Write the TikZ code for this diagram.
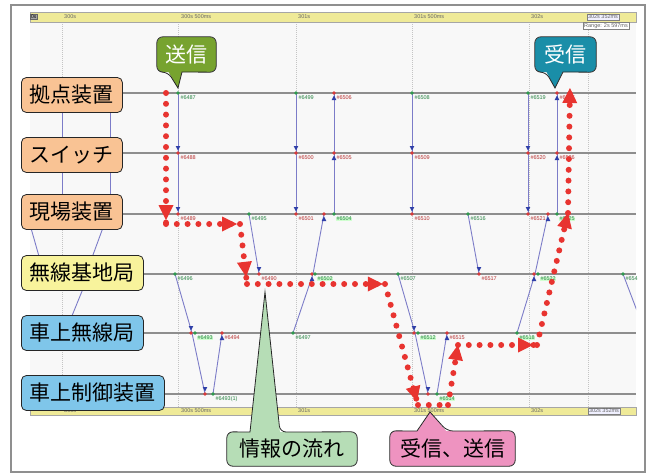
\documentclass[tikz,border=0pt]{standalone}
\usepackage{fontspec}
\setmainfont{Liberation Sans}
\newfontfamily\cjk{Noto Sans CJK JP}
\usetikzlibrary{decorations.markings}

\definecolor{frm}{HTML}{8F8F8F}
\definecolor{plotbg}{HTML}{F8F8F8}
\definecolor{rowc}{HTML}{8E8E8E}
\definecolor{gridc}{HTML}{C4C4C4}
\definecolor{rul}{HTML}{EFEA98}
\definecolor{msgc}{HTML}{7C7CC8}
\definecolor{sndc}{HTML}{2E9A4E}
\definecolor{rcvc}{HTML}{D83A3A}
\definecolor{arrc}{HTML}{2F3FA8}
\definecolor{redp}{HTML}{E83430}
\definecolor{orng}{HTML}{F9C394}
\definecolor{yell}{HTML}{F8F39C}
\definecolor{blu}{HTML}{7FC6EA}
\definecolor{cgreen}{HTML}{77A32F}
\definecolor{cteal}{HTML}{1A8EA8}
\definecolor{cmint}{HTML}{B6DDB6}
\definecolor{cpink}{HTML}{EE93C0}

\newcommand\evS[3]{\fill[sndc] (#1,#2) circle (1.9pt); \node[evl,text=sndc!85!black] at (#1+2,#2+5) {#3};}
\newcommand\evSh[3]{\fill[sndc] (#1,#2) circle (1.9pt); \node[evl,text=sndc!85!black,fill=green!18] at (#1+2,#2+5) {#3};}
\newcommand\evD[3]{\fill[arrc] (#1-2.3,#2-7) -- (#1+2.3,#2-7) -- (#1,#2-2.5) -- cycle; \fill[rcvc] (#1,#2) circle (1.9pt); \node[evl,text=rcvc!85!black] at (#1+2,#2+5) {#3};}
\newcommand\evU[3]{\fill[arrc] (#1-2.3,#2+7) -- (#1+2.3,#2+7) -- (#1,#2+2.5) -- cycle; \fill[rcvc] (#1,#2) circle (1.9pt); \node[evl,text=rcvc!85!black] at (#1+2,#2+5) {#3};}

\begin{document}
\begin{tikzpicture}[x=1pt,y=-1pt,
  devbox/.style={draw=black!85, line width=0.8pt, rounded corners=5pt, inner xsep=8.5pt, inner ysep=0pt, minimum height=35pt, font=\cjk\fontsize{21}{21}\selectfont, anchor=west, text=black},
  co/.style={inner sep=0pt, minimum height=35pt, rounded corners=6pt, font=\cjk\fontsize{21}{21}\selectfont},
  coline/.style={draw=black!85, line width=0.8pt},
  rulerbar/.style={fill=rul, draw=black!35, line width=0.4pt},
  tickl/.style={font=\fontsize{5.5}{6}\selectfont, text=black!60, inner sep=0pt, anchor=west},
  evl/.style={font=\fontsize{5.5}{6}\selectfont, inner sep=0.3pt, anchor=west},
  rowl/.style={draw=rowc, line width=1.3pt},
  gridl/.style={draw=gridc, line width=0.6pt, dash pattern=on 1pt off 1pt},
  msg/.style={draw=msgc, line width=0.9pt},
  reddots/.style={draw=redp, line width=6pt, line cap=round, dash pattern=on 0pt off 10.8pt},
  redarr/.style={postaction={decorate, decoration={markings, mark=at position #1 with {\fill[redp] (0pt,0pt) -- (-15pt,-7.5pt) -- (-15pt,7.5pt) -- cycle;}}}}
]
\useasboundingbox (0,0) rectangle (654,475);
\fill[white] (0,0) rectangle (654,475);
\draw[draw=frm, line width=1.4pt] (11,5) rectangle (645,472);
\fill[plotbg] (30,22) rectangle (636,407);

% grid lines
\foreach \gx in {62,178,296,412,529,588} \draw[gridl] (\gx,22) -- (\gx,407);
% timeline rows
\foreach \ry in {93,153,214,274,333,394} \draw[rowl] (30,\ry) -- (636,\ry);

% message lines
\begin{scope}
\clip (30,22) rectangle (636,407);
\draw[msg] (62,93) -- (62,214);
\draw[msg] (110,93) -- (110,214);
\draw[msg] (27,214) -- (44,274);
\draw[msg] (108,214) -- (86,274);
\draw[msg] (89,274) -- (65,333);
\draw[msg] (178,93) -- (178,214);
\draw[msg] (296,93) -- (296,214);
\draw[msg] (334,214) -- (334,93);
\draw[msg] (412,93) -- (412,214);
\draw[msg] (528,93) -- (528,214);
\draw[msg] (557,214) -- (557,93);
\draw[msg] (249,214) -- (259,274);
\draw[msg] (293,333) -- (313,274) -- (324,214);
\draw[msg] (175,274) -- (192,333) -- (205,394);
\draw[msg] (213,394) -- (222,333);
\draw[msg] (398,274) -- (415,333) -- (428,394);
\draw[msg] (437,394) -- (447,333);
\draw[msg] (468,214) -- (479,274);
\draw[msg] (517,333) -- (535,274) -- (548,214);
\draw[msg] (623,274) -- (642,324);
\end{scope}

% events row 1
\evD{110}{93}{}
\evS{178}{93}{\#6487}
\evS{296}{93}{\#6499}
\evU{334}{93}{\#6506}
\evS{412}{93}{\#6508}
\evS{528}{93}{\#6519}
\evU{557}{93}{\#6527}
% row 2
\evD{110}{153}{}
\evD{178}{153}{\#6488}
\evD{296}{153}{\#6500}
\evU{334}{153}{\#6505}
\evD{412}{153}{\#6509}
\evD{528}{153}{\#6520}
\evU{557}{153}{\#6526}
% row 3
\evS{108}{214}{}
\evD{178}{214}{\#6489}
\evS{249}{214}{\#6495}
\evD{296}{214}{\#6501}
\evU{324}{214}{}
\evSh{334}{214}{\#6504}
\evD{412}{214}{\#6510}
\evS{468}{214}{\#6516}
\evD{528}{214}{\#6521}
\evU{548}{214}{}
\evSh{557}{214}{\#6525}
% row 4
\evS{175}{274}{\#6496}
\evD{259}{274}{\#6490}
\evU{312}{274}{}
\evSh{315}{274}{\#6502}
\evS{398}{274}{\#6507}
\evD{479}{274}{\#6517}
\evU{534}{274}{}
\evSh{538}{274}{\#6522}
\evS{623}{274}{\#654}
% row 5
\evD{191}{333}{}
\evSh{195}{333}{\#6493}
\evU{222}{333}{\#6494}
\evS{293}{333}{\#6497}
\evD{414}{333}{}
\evSh{418}{333}{\#6512}
\evU{447}{333}{\#6515}
\evSh{517}{333}{\#6518}
% row 6
\evD{205}{394}{}
\evS{213}{394}{\#6493(1)}
\evD{428}{394}{}
\evSh{437}{394}{\#6514}

% rulers
\filldraw[rulerbar] (30,12) rectangle (636,22);
\filldraw[rulerbar] (30,407) rectangle (636,415);
\node[fill=black!35, draw=black!60, inner sep=0.8pt, anchor=west, font=\fontsize{5}{5}\selectfont] (zero) at (30,17) {0s};
\foreach \tx/\tt in {64/300s, 181/300s 500ms, 298/301s, 414/301s 500ms, 531/302s} {
  \node[tickl] at (\tx,17) {\tt};
  \node[tickl] at (\tx,411) {\tt};
}
\node[tickl, draw=black!50, fill=blue!6, inner sep=0.8pt] (endtop) at (587,17) {302s 352ms};
\node[tickl, draw=black!50, fill=blue!6, inner sep=0.8pt] (endbot) at (588,411) {302s 352ms};
\node[tickl, draw=black!50, fill=white, inner sep=1pt, anchor=north west] (range) at (583,22) {Range: 2s 597ms};

% device labels
\node[devbox, fill=orng] (kyoten) at (21,95) {拠点装置};
\node[devbox, fill=orng] (switch) at (21,155) {スイッチ};
\node[devbox, fill=orng] (genba) at (21,212) {現場装置};
\node[devbox, fill=yell] (kichi) at (21,273) {無線基地局};
\node[devbox, fill=blu] (shamusen) at (21,333) {車上無線局};
\node[devbox, fill=blu] (shaseigyo) at (21,393) {車上制御装置};

% red information flow
\coordinate (r0) at (166,93);
\coordinate (r1) at (166,224);
\coordinate (r2) at (240,224);
\coordinate (r3) at (247,284);
\coordinate (r4) at (385,284);
\coordinate (r5) at (418,405);
\coordinate (r6) at (448,405);
\coordinate (r7) at (458,345);
\coordinate (r8) at (537,345);
\coordinate (r9) at (568,213);
\coordinate (r10) at (570,88);
\draw[reddots, redarr=0.97] (r0) -- (r1);
\draw[reddots, redarr=0.96] (r1) -- (r2);
\draw[reddots, redarr=0.88] (r2) -- (r3);
\draw[reddots, redarr=0.985] (r3) -- (r4);
\draw[reddots, redarr=0.97] (r4) -- (r5);
\draw[reddots] (r5) -- (r6);
\draw[reddots, redarr=1] (r6) -- (r7);
\draw[reddots, redarr=0.95] (r7) -- (r8);
\draw[reddots, redarr=1] (r8) -- (r9);
\draw[reddots, redarr=1] (r9) -- (r10);

% callout: 送信
\node[co, fill=cgreen, text=white, minimum width=59pt] (cSend) at (186.5,54.5) {送信};
\coordinate (tSend) at (178,88);
\fill[cgreen] (168,71) -- (tSend) -- (182,71) -- cycle;
\draw[coline] (182,72) [rounded corners=6pt] -- (cSend.south east) -- (cSend.north east) -- (cSend.north west) -- (cSend.south west) -- (168,72) [sharp corners] -- (tSend) -- cycle;

% callout: 受信
\node[co, fill=cteal, text=white, minimum width=61pt] (cRecv) at (565.5,54.5) {受信};
\coordinate (tRecv) at (555,88);
\fill[cteal] (546,71) -- (tRecv) -- (563,71) -- cycle;
\draw[coline] (563,72) [rounded corners=6pt] -- (cRecv.south east) -- (cRecv.north east) -- (cRecv.north west) -- (cRecv.south west) -- (546,72) [sharp corners] -- (tRecv) -- cycle;

% callout: 情報の流れ
\node[co, fill=cmint, text=black, minimum width=130pt, minimum height=34pt] (cFlow) at (292,449) {情報の流れ};
\coordinate (tFlow) at (265,292);
\fill[cmint] (250,433) -- (tFlow) -- (280,433) -- cycle;
\draw[coline] (250,432) [rounded corners=6pt] -- (cFlow.north west) -- (cFlow.south west) -- (cFlow.south east) -- (cFlow.north east) -- (280,432) [sharp corners] -- (tFlow) -- cycle;

% callout: 受信、送信
\node[co, fill=cpink, text=black, minimum width=125pt] (cRS) at (452.5,448.5) {受信、送信};
\coordinate (tRS) at (430,412);
\fill[cpink] (417,432) -- (tRS) -- (447,432) -- cycle;
\draw[coline] (417,431) [rounded corners=6pt] -- (cRS.north west) -- (cRS.south west) -- (cRS.south east) -- (cRS.north east) -- (447,431) [sharp corners] -- (tRS) -- cycle;
\end{tikzpicture}
\end{document}
